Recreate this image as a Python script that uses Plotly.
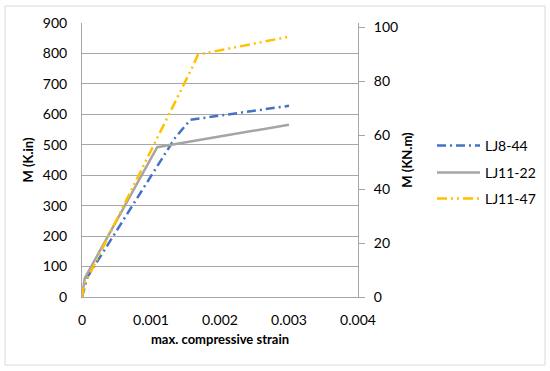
import plotly.graph_objects as go

# Data (strain, moment in K.in)
lj8_44_strain = [0, 0.00008, 0.00135, 0.00157, 0.003]
lj8_44_m = [0, 66, 523, 582, 628]
lj11_22_strain = [0, 0.00004, 0.00109, 0.003]
lj11_22_m = [0, 62, 492, 566]
lj11_47_strain = [0, 0.00003, 0.0016, 0.00168, 0.003]
lj11_47_m = [0, 38, 755, 796, 855]

x_ticks = [0, 0.001, 0.002, 0.003, 0.004]
x_tick_labels = ["0", "0.001", "0.002", "0.003", "0.004"]
left_ticks = [0, 100, 200, 300, 400, 500, 600, 700, 800, 900]
right_ticks = [0, 20, 40, 60, 80, 100]
kin_to_knm = 0.113

FONT = "Lato"
fig = go.Figure()
fig.add_trace(go.Scatter(x=lj8_44_strain, y=lj8_44_m, name="LJ8-44", mode="lines", legend="legend",
                         line=dict(color="#4472C4", width=2.5, dash="9px,4px,2px,4px")))
fig.add_trace(go.Scatter(x=lj11_22_strain, y=lj11_22_m, name="LJ11-22", mode="lines", legend="legend2",
                         line=dict(color="#A5A5A5", width=2.5)))
fig.add_trace(go.Scatter(x=lj11_47_strain, y=lj11_47_m, name="LJ11-47", mode="lines", legend="legend3",
                         line=dict(color="#FFC000", width=2.5, dash="10px,4px,2px,4px,2px,4px")))
# invisible trace to activate right axis
fig.add_trace(go.Scatter(x=[0], y=[0], yaxis="y2", showlegend=False, mode="markers",
                         marker=dict(opacity=0), hoverinfo="skip"))

def leg(ypx):
    return dict(x=(432 - 82) / 276, y=(297 - ypx) / 274, xanchor="left", yanchor="middle",
                font=dict(family=FONT, size=14), itemwidth=43, bgcolor="rgba(0,0,0,0)")

fig.update_layout(
    width=550, height=371,
    margin=dict(l=82, r=192, t=23, b=74, autoexpand=False),
    paper_bgcolor="white", plot_bgcolor="white",
    font=dict(family=FONT, size=14, color="#000000"),
    showlegend=True,
    legend=leg(146), legend2=leg(173), legend3=leg(199),
    xaxis=dict(range=[0, 0.004], tickvals=x_ticks, ticktext=x_tick_labels, automargin=False,
               showgrid=False, showline=True, linecolor="#A6A6A6", linewidth=1,
               ticks="", ticklabelstandoff=10, zeroline=False,
               title=dict(text="<b>max. compressive strain</b>", font=dict(size=13, family=FONT), standoff=8)),
    yaxis=dict(range=[0, 900], tickvals=left_ticks, showgrid=True, gridcolor="#A6A6A6", gridwidth=1,
               showline=True, linecolor="#A6A6A6", linewidth=1, ticks="", ticklabelstandoff=11,
               zeroline=False, automargin=False,
               title=dict(text="<b>M (K.in)</b>", font=dict(size=13, family=FONT), standoff=6)),
    yaxis2=dict(range=[0, 900 * kin_to_knm], tickvals=right_ticks, overlaying="y", side="right",
                showgrid=False, showline=True, linecolor="#A6A6A6", linewidth=1, automargin=False,
                ticks="outside", ticklen=6, tickcolor="#A6A6A6", ticklabelstandoff=6, zeroline=False,
                title=dict(text="<b>M (KN.m)</b>", font=dict(size=13, family=FONT), standoff=5)),
    shapes=[dict(type="rect", xref="paper", yref="paper",
                 x0=(5 - 82) / 276, x1=(545 - 82) / 276,
                 y0=(297 - 365) / 274, y1=(297 - 6) / 274,
                 line=dict(color="#D9D9D9", width=1), layer="below")],
)

fig.write_html("out.html", config={"displayModeBar": False},
               post_script="document.body.style.margin='0px';")
